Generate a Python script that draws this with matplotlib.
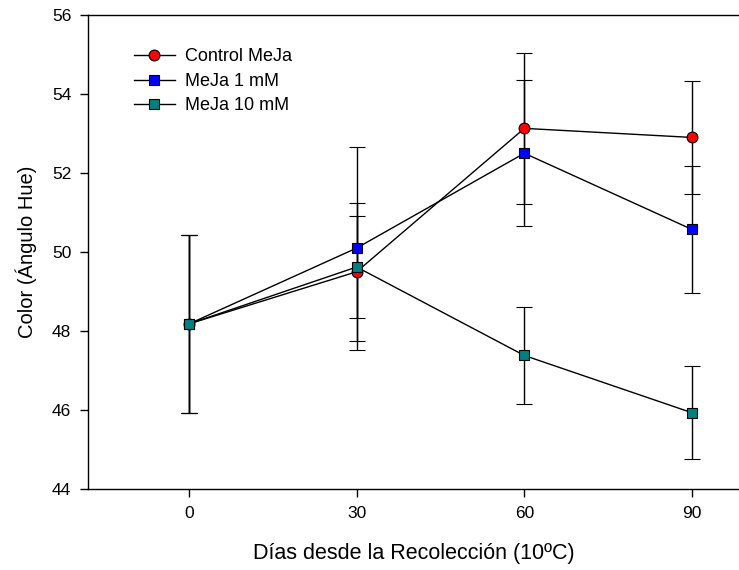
import numpy as np
import matplotlib
matplotlib.use("Agg")
import matplotlib.pyplot as plt
from matplotlib.lines import Line2D

plt.rcParams['font.family'] = ['Liberation Sans', 'DejaVu Sans']

# days after harvest
dias = [0, 30, 60, 90]

# hue angle, mean and error
control = [48.18, 49.50, 53.13, 52.90]
control_err = [2.26, 1.75, 1.92, 1.42]
meja1 = [48.18, 50.10, 52.50, 50.57]
meja1_err = [2.26, 2.57, 1.85, 1.60]
meja10 = [48.18, 49.62, 47.38, 45.93]
meja10_err = [2.26, 1.30, 1.24, 1.18]

series = [
    ("Control MeJa", control, control_err, 'o', '#ff0000'),
    ("MeJa 1 mM", meja1, meja1_err, 's', '#0000ff'),
    ("MeJa 10 mM", meja10, meja10_err, 's', '#008080'),
]

fig = plt.figure(figsize=(7.39, 5.70), dpi=100)
ax = fig.add_axes([88/739, 81/570, 651/739, 474/570])

handles = []
for name, vals, err, mk, col in series:
    ax.errorbar(dias, vals, yerr=err, color='black', lw=1, elinewidth=1,
                capsize=6, capthick=1, marker=mk, markersize=7.8,
                markerfacecolor=col, markeredgecolor='black',
                markeredgewidth=0.8)
    handles.append(Line2D([], [], color='black', lw=1, marker=mk, markersize=7.8,
                          markerfacecolor=col, markeredgecolor='black',
                          markeredgewidth=0.8, label=name))

ax.set_xlim(-18.07, 98.4)
ax.set_ylim(44, 56)
ax.set_xticks(dias)
ax.set_yticks(np.arange(44, 57, 2))
ax.spines['right'].set_visible(False)
for s in ['left', 'bottom', 'top']:
    ax.spines[s].set_linewidth(1)
ax.tick_params(direction='out', length=6, width=1, labelsize=12.5, pad=6)

ax.set_xlabel("Días desde la Recolección (10ºC)", fontsize=15.5, labelpad=16)
ax.set_ylabel("Color (Ángulo Hue)", fontsize=14.5, labelpad=11)

leg = ax.legend(handles=handles, loc='upper left', bbox_to_anchor=(0.059, 0.945),
                frameon=False, fontsize=13, handlelength=2.27, handletextpad=0.6,
                labelspacing=0.42, borderaxespad=0)

fig.savefig("out.png", dpi=100)
